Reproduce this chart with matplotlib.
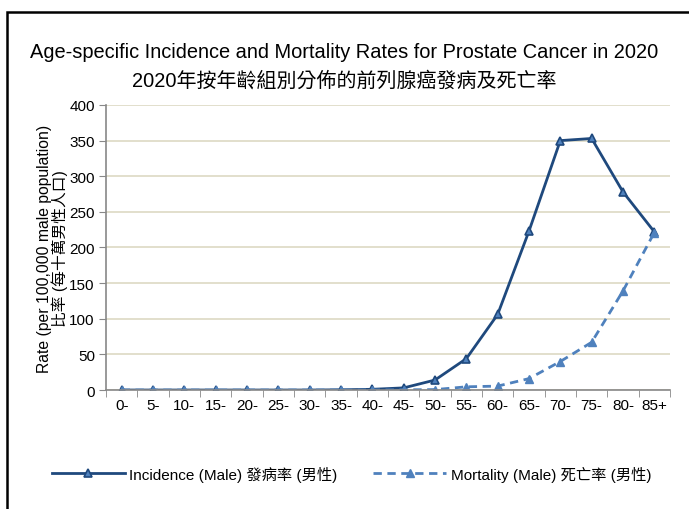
import matplotlib
matplotlib.use("Agg")
import matplotlib.pyplot as plt
from matplotlib.patches import Rectangle

plt.rcParams['font.family'] = ['Liberation Sans', 'Noto Sans CJK TC', 'DejaVu Sans']

# data
age_groups = ['0-', '5-', '10-', '15-', '20-', '25-', '30-', '35-', '40-', '45-',
              '50-', '55-', '60-', '65-', '70-', '75-', '80-', '85+']
incidence = [0, 0, 0, 0, 0, 0, 0, 0.3, 1, 3, 14, 44, 106, 223, 350, 353, 278, 222]
mortality = [0, 0, 0, 0, 0, 0, 0, 0, 0, 0.3, 0.6, 4.5, 5.5, 16, 40, 67, 139, 221]

fig = plt.figure(figsize=(6.89, 5.10), dpi=100)
ax = fig.add_axes([0.1538, 0.2333, 0.8186, 0.5589])

x = list(range(len(age_groups)))
ax.plot(x, incidence, color='#1f497d', lw=2, marker='^', ms=6,
        mfc='#4f81bd', mec='#1f497d', mew=1.2,
        label='Incidence (Male) 發病率 (男性)')
ax.plot(x, mortality, color='#4f81bd', lw=2, ls=(0, (3, 2)), marker='^', ms=6,
        mfc='#4f81bd', mec='#4f81bd',
        label='Mortality (Male) 死亡率 (男性)')

ax.set_xlim(-0.5, len(age_groups) - 0.5)
ax.set_ylim(0, 400)
ax.set_yticks(range(0, 401, 50))
ax.set_xticks(x)
ax.set_xticklabels(age_groups)
ax.set_xticks([i - 0.5 for i in range(len(age_groups) + 1)], minor=True)
ax.tick_params(axis='x', which='major', length=0, pad=6, labelsize=11)
ax.tick_params(axis='x', which='minor', length=5, color='#888888')
ax.tick_params(axis='y', length=5, color='#888888', labelsize=11, pad=3)
ax.grid(axis='y', color='#ddd9c3', lw=1.2)
ax.set_axisbelow(True)
for s in ['top', 'right']:
    ax.spines[s].set_visible(False)
for s in ['left', 'bottom']:
    ax.spines[s].set_color('#888888')
    ax.spines[s].set_linewidth(1.2)

ax.set_ylabel('Rate (per 100,000 male population)\n比率 (每十萬男性人口)',
              fontsize=11.3, linespacing=0.95, labelpad=1)

fig.text(0.5, 0.897, 'Age-specific Incidence and Mortality Rates for Prostate Cancer in 2020',
         ha='center', va='center', fontsize=14.4)
fig.text(0.5, 0.842, '2020年按年齡組別分佈的前列腺癌發病及死亡率',
         ha='center', va='center', fontsize=14.4)

ax.legend(loc='center', bbox_to_anchor=(0.51, 0.069), bbox_transform=fig.transFigure,
          ncol=2, frameon=False, fontsize=11, handlelength=4.8, handletextpad=0.3,
          columnspacing=2.3)

fig.patches.append(Rectangle((0.0102, -0.1), 1.2, 0.9745 + 0.1, transform=fig.transFigure,
                             fill=False, ec='black', lw=1.8))

fig.savefig('out.png', dpi=100)
